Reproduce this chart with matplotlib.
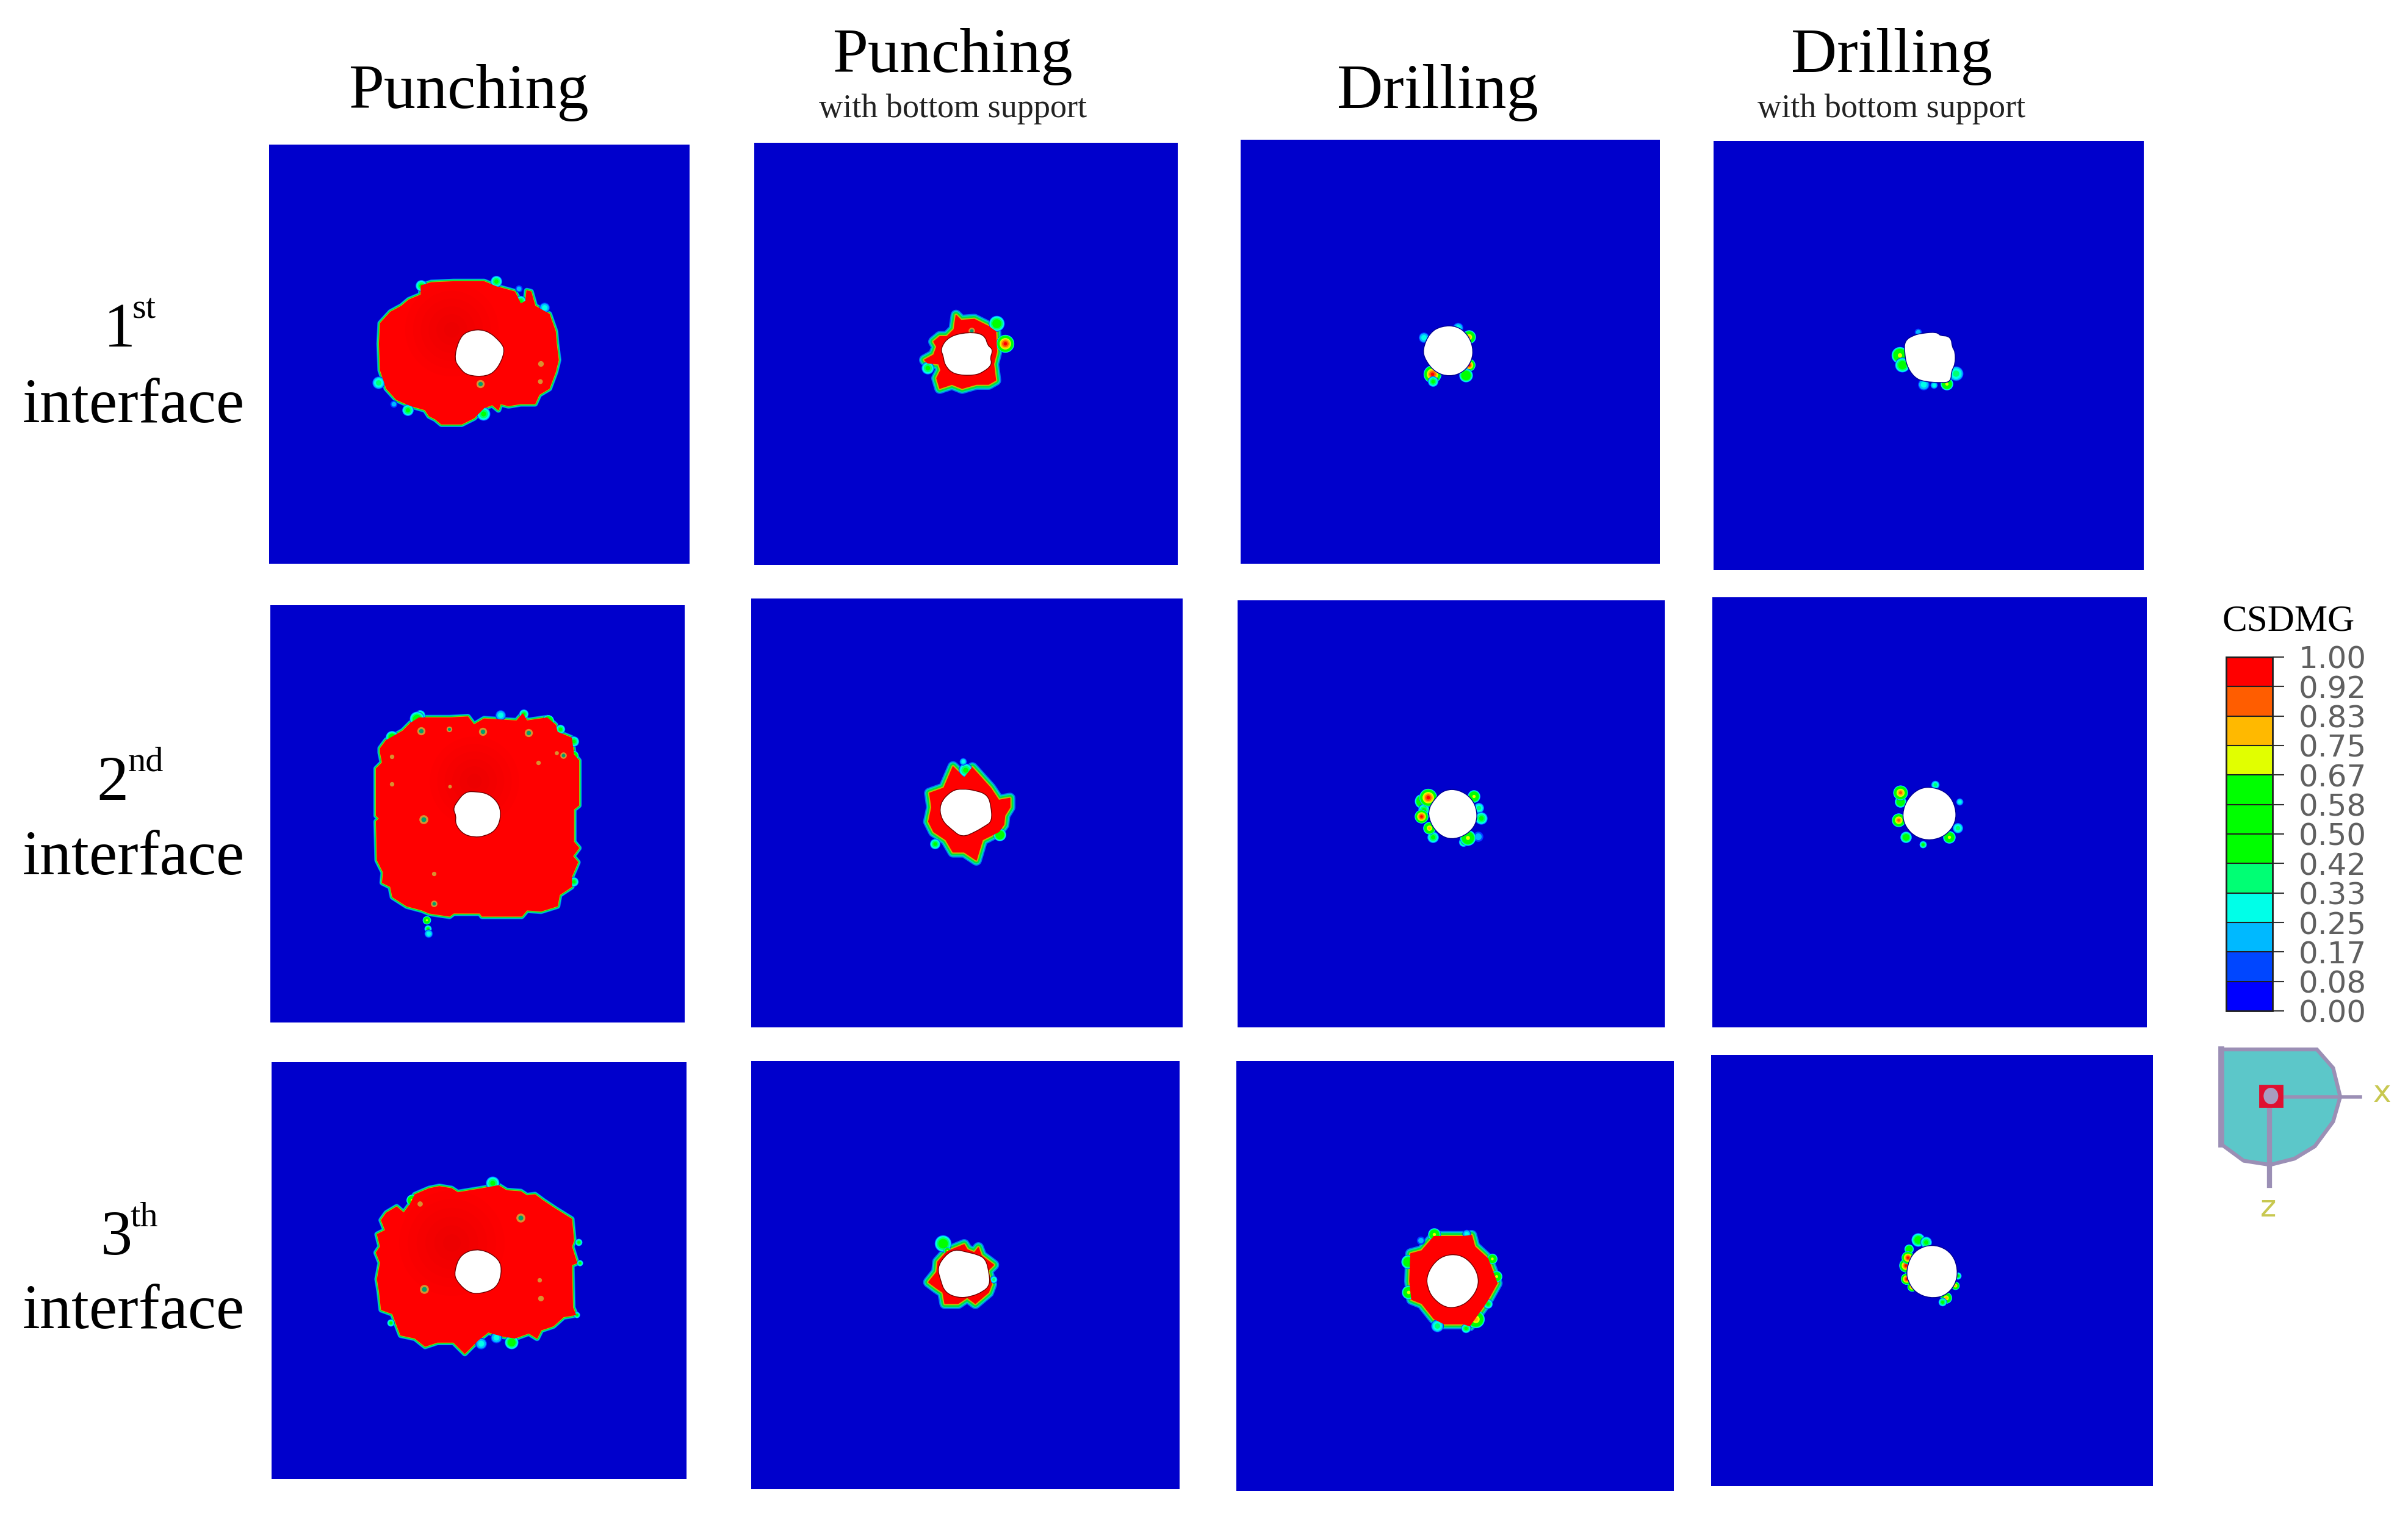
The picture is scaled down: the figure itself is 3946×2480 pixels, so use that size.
import matplotlib
matplotlib.use("Agg")
import matplotlib.pyplot as plt
from matplotlib.cm import ScalarMappable
from matplotlib.colors import BoundaryNorm, ListedColormap
from matplotlib.patches import Ellipse, PathPatch, Polygon, Rectangle
from matplotlib.path import Path

W, H = 3946, 2480
DPI = 100
PT = 72 / DPI  # one image pixel in points

BLUE = "#0000CC"
LEVELS = [0.00, 0.08, 0.17, 0.25, 0.33, 0.42, 0.50, 0.58, 0.67, 0.75, 0.83, 0.92, 1.00]
LEVEL_COLORS = ["#0000FF", "#0046FF", "#00B9FF", "#00FFE8", "#00FF74", "#00FF00",
                "#00FF00", "#00FF00", "#E1FF00", "#FFB900", "#FF5D00", "#FF0000"]

COLUMN_TITLES = ["Punching", "Punching", "Drilling", "Drilling"]
COLUMN_SUB = ["", "with bottom support", "", "with bottom support"]
ROW_NUMBERS = ["1", "2", "3"]
ROW_SUFFIX = ["st", "nd", "th"]

# panel extents in image pixels: left, right, top, bottom
EXTENTS = [
    [(441, 1130, 237, 924), (1236, 1930, 234, 926), (2033, 2720, 229, 924), (2808, 3513, 231, 934)],
    [(443, 1122, 992, 1676), (1231, 1938, 981, 1684), (2028, 2728, 984, 1684), (2806, 3518, 979, 1684)],
    [(445, 1125, 1741, 2424), (1231, 1933, 1739, 2441), (2026, 2743, 1739, 2444), (2804, 3528, 1729, 2436)],
]

ORIGIN_11 = (590, 430)
DAMAGE_11 = [(100, 300), (150, 245), (205, 215), (240, 185), (300, 160), (300, 115), (350, 100), (460, 95),
             (550, 95), (610, 95), (670, 120), (760, 145), (790, 205), (815, 190), (820, 140), (840, 145),
             (860, 215), (930, 255), (960, 340), (965, 400), (975, 480), (960, 540), (930, 620), (880, 650),
             (860, 695), (790, 695), (730, 705), (690, 695), (680, 725), (650, 700), (610, 715), (560, 765),
             (500, 795), (400, 795), (370, 770), (340, 755), (320, 725), (250, 705), (180, 675), (130, 620),
             (100, 530), (95, 400)]
HOLE_11 = [(470, 475), (490, 390), (525, 345), (615, 335), (690, 400), (705, 440), (670, 520), (620, 555),
           (530, 550), (495, 515)]
SPOTS_11 = [(90, 590, 24, .42), (235, 725, 22, .5), (165, 695, 14, .25), (300, 115, 22, .5), (670, 92, 22, .5),
            (905, 222, 20, .3), (790, 190, 20, .5), (780, 128, 14, .2), (605, 745, 26, .5)]
PITS_11 = [(888, 497, 14, .0), (592, 598, 20, .45), (885, 585, 12, .0)]
SHADE_11 = (450, 330, 230)

ORIGIN_12 = (1420, 440)
DAMAGE_12 = [(285, 450), (330, 425), (345, 385), (330, 360), (360, 335), (395, 335), (430, 300), (440, 230),
             (465, 255), (530, 250), (600, 285), (635, 310), (640, 410), (625, 470), (635, 550), (600, 570),
             (540, 570), (470, 590), (420, 570), (360, 590), (345, 540), (365, 500), (355, 470), (300, 465)]
HOLE_12 = [(370, 395), (410, 340), (500, 320), (575, 330), (590, 385), (615, 400), (600, 440), (610, 470),
           (575, 500), (530, 520), (430, 515), (390, 470), (385, 430)]
SPOTS_12 = [(640, 270, 30, .55), (680, 370, 34, 1.0), (300, 490, 24, .45)]
PITS_12 = [(515, 305, 16, .45)]

ORIGIN_13 = (2290, 510)
HOLE_13 = [(130, 190), (165, 110), (220, 80), (290, 80), (340, 120), (365, 180), (360, 240), (320, 295),
           (255, 315), (190, 295), (145, 240)]
SPOTS_13 = [(130, 128, 20, .3), (298, 80, 20, .33), (352, 125, 26, .8), (170, 308, 34, 1.0), (175, 345, 20, .45),
            (350, 265, 24, 1.0), (335, 315, 26, .6)]

ORIGIN_14 = (3070, 510)
HOLE_14 = [(160, 150), (200, 125), (245, 115), (310, 110), (325, 128), (375, 130), (380, 180), (395, 200),
           (395, 260), (375, 295), (375, 340), (340, 345), (250, 340), (205, 320), (170, 265), (160, 200)]
SPOTS_14 = [(218, 103, 14, .2), (130, 215, 32, .75), (140, 265, 28, .58), (245, 360, 22, .3), (297, 362, 14, .3),
            (360, 358, 24, .75), (405, 305, 28, .42)]

ORIGIN_21 = (560, 1120)
DAMAGE_21 = [(170, 420), (200, 390), (190, 340), (190, 320), (220, 280), (300, 235), (340, 195), (380, 170),
             (420, 170), (530, 170), (620, 165), (650, 205), (700, 175), (860, 185), (890, 150), (910, 185),
             (1010, 170), (1050, 205), (1060, 240), (1130, 270), (1140, 350), (1165, 380), (1165, 600),
             (1140, 620), (1140, 780), (1165, 810), (1135, 850), (1160, 880), (1130, 950), (1130, 1000),
             (1070, 1040), (1060, 1095), (980, 1120), (910, 1115), (885, 1145), (690, 1145), (680, 1130),
             (550, 1130), (530, 1145), (430, 1130), (395, 1115), (320, 1095), (250, 1050), (240, 1000),
             (200, 980), (205, 930), (175, 870), (170, 680), (185, 665), (170, 650)]
HOLE_21 = [(555, 620), (570, 590), (610, 540), (660, 540), (720, 550), (770, 600), (775, 665), (750, 720),
           (700, 745), (650, 750), (600, 735), (565, 690), (570, 650)]
SPOTS_21 = [(418, 1165, 16, .7), (422, 1205, 14, .45), (425, 1230, 16, .3), (385, 155, 20, .45), (780, 155, 20, .3),
            (895, 150, 18, .45), (1015, 183, 22, .75), (1075, 225, 18, .5), (245, 265, 24, .55), (1140, 975, 18, .45),
            (1140, 355, 18, .75), (1140, 285, 20, .5), (370, 175, 28, .55)]
PITS_21 = [(390, 235, 20, .4), (527, 225, 14, .4), (692, 237, 20, .4), (917, 243, 20, .4), (1088, 353, 16, .4),
           (1055, 343, 10, .0), (965, 390, 11, .0), (247, 360, 11, .0), (245, 495, 11, .0), (532, 507, 9, .0),
           (402, 668, 22, .35), (453, 937, 11, .0), (453, 1082, 16, .5)]
SHADE_21 = (650, 480, 220)

ORIGIN_22 = (1490, 1220)
DAMAGE_22 = [(100, 240), (170, 215), (215, 110), (270, 165), (310, 115), (400, 215), (440, 275), (495, 265),
             (495, 310), (470, 350), (465, 395), (440, 430), (360, 470), (330, 570), (270, 530), (215, 530),
             (180, 470), (120, 430), (95, 380), (110, 310)]
HOLE_22 = [(155, 295), (210, 235), (260, 225), (330, 235), (380, 255), (395, 305), (400, 375), (370, 395),
           (320, 425), (260, 450), (215, 415), (165, 370)]
SPOTS_22 = [(275, 125, 26, .5), (445, 445, 24, .65), (125, 490, 20, .45), (265, 85, 14, .3)]

ORIGIN_23 = (2290, 1250)
HOLE_23 = [(155, 240), (190, 180), (235, 140), (300, 140), (360, 180), (385, 240), (380, 300), (340, 345),
           (280, 370), (225, 360), (175, 310)]
SPOTS_23 = [(120, 190, 28, .7), (130, 230, 22, .5), (175, 365, 22, .5), (150, 170, 34, 1.0), (118, 265, 26, 1.0),
            (155, 320, 24, .8), (375, 165, 24, .75), (400, 222, 20, .4), (412, 272, 24, .45), (395, 362, 20, .25),
            (325, 390, 18, .5), (345, 368, 30, .75)]

ORIGIN_24 = (3071, 1244)
HOLE_24 = [(145, 270), (170, 200), (225, 150), (290, 145), (360, 175), (395, 240), (395, 310), (350, 370),
           (280, 395), (210, 380), (160, 330)]
SPOTS_24 = [(130, 210, 22, .6), (130, 165, 28, .9), (120, 300, 26, .85), (155, 385, 22, .55), (300, 125, 16, .4),
            (370, 385, 24, .7), (410, 340, 20, .4), (240, 420, 14, .5), (420, 210, 14, .3)]

ORIGIN_31 = (590, 1910)
DAMAGE_31 = [(85, 340), (125, 320), (105, 270), (130, 235), (180, 205), (215, 235), (245, 195), (270, 145),
             (340, 115), (390, 105), (450, 115), (480, 135), (600, 115), (680, 100), (720, 125), (790, 130),
             (820, 150), (860, 145), (900, 175), (960, 215), (1040, 265), (1050, 370), (1040, 400), (1065, 480),
             (1040, 490), (1045, 700), (1060, 735), (1000, 745), (950, 790), (890, 810), (870, 850), (830, 825),
             (760, 850), (700, 840), (630, 820), (580, 860), (515, 925), (460, 870), (380, 870), (320, 890),
             (270, 850), (200, 835), (160, 730), (105, 710), (95, 620), (85, 560), (100, 480), (80, 430), (100, 400)]
HOLE_31 = [(470, 525), (500, 440), (590, 415), (680, 465), (690, 530), (665, 600), (590, 625), (535, 620),
           (480, 565)]
SPOTS_31 = [(255, 170, 22, .75), (650, 88, 26, .5), (595, 875, 22, .33), (668, 845, 22, .33), (745, 870, 26, .58),
            (150, 775, 14, .5), (1075, 378, 14, .5), (1080, 480, 12, .45), (1065, 735, 12, .45)]
PITS_31 = [(295, 188, 13, .0), (790, 257, 22, .4), (315, 610, 22, .35), (882, 563, 11, .0), (888, 655, 14, .0)]
SHADE_31 = (450, 380, 260)

ORIGIN_32 = (1490, 1990)
DAMAGE_32 = [(95, 335), (135, 285), (140, 235), (185, 185), (270, 150), (285, 175), (320, 190), (340, 165),
             (355, 205), (415, 250), (385, 280), (405, 345), (390, 385), (325, 440), (285, 410), (240, 440),
             (175, 440), (165, 385), (135, 365)]
HOLE_32 = [(145, 265), (180, 210), (225, 180), (285, 195), (330, 205), (370, 225), (385, 290), (390, 345),
           (360, 375), (300, 400), (240, 405), (180, 380), (160, 320)]
SPOTS_32 = [(165, 145, 32, .55), (185, 180, 14, .75), (415, 320, 14, .4)]

ORIGIN_33 = (2270, 1990)
DAMAGE_33 = [(125, 195), (180, 180), (240, 110), (380, 110), (425, 105), (440, 160), (505, 220), (550, 340),
             (500, 430), (415, 550), (385, 540), (290, 540), (240, 515), (180, 440), (130, 420), (120, 330)]
HOLE_33 = [(210, 310), (240, 250), (290, 210), (360, 205), (415, 240), (450, 300), (450, 360), (410, 420),
           (360, 450), (300, 455), (240, 410), (215, 360)]
SPOTS_33 = [(240, 100, 24, .75), (175, 130, 16, .25), (110, 235, 26, .6), (115, 385, 26, .75), (255, 548, 24, .4),
            (395, 562, 18, .45), (445, 515, 34, .8), (505, 440, 18, .5), (525, 220, 20, .7), (545, 305, 22, .75),
            (400, 95, 16, .3)]

ORIGIN_34 = (3076, 1994)
HOLE_34 = [(150, 270), (175, 190), (235, 150), (305, 150), (365, 190), (390, 260), (380, 330), (330, 385),
           (260, 395), (195, 370), (160, 320)]
SPOTS_34 = [(200, 115, 26, .55), (240, 125, 22, .5), (155, 160, 18, .6), (140, 240, 26, 1.0), (150, 200, 24, 1.0),
            (145, 305, 22, .95), (170, 345, 18, .9), (340, 400, 22, .8), (320, 420, 16, .5), (395, 290, 14, .45),
            (385, 340, 16, .8)]

# row, col, origin, damage outline, hole, spots, pits, shade, edge band width in px
PANELS = [
    (0, 0, ORIGIN_11, DAMAGE_11, HOLE_11, SPOTS_11, PITS_11, SHADE_11, 5),
    (0, 1, ORIGIN_12, DAMAGE_12, HOLE_12, SPOTS_12, PITS_12, None, 9),
    (0, 2, ORIGIN_13, None, HOLE_13, SPOTS_13, [], None, 9),
    (0, 3, ORIGIN_14, None, HOLE_14, SPOTS_14, [], None, 9),
    (1, 0, ORIGIN_21, DAMAGE_21, HOLE_21, SPOTS_21, PITS_21, SHADE_21, 5),
    (1, 1, ORIGIN_22, DAMAGE_22, HOLE_22, SPOTS_22, [], None, 9),
    (1, 2, ORIGIN_23, None, HOLE_23, SPOTS_23, [], None, 9),
    (1, 3, ORIGIN_24, None, HOLE_24, SPOTS_24, [], None, 9),
    (2, 0, ORIGIN_31, DAMAGE_31, HOLE_31, SPOTS_31, PITS_31, SHADE_31, 5),
    (2, 1, ORIGIN_32, DAMAGE_32, HOLE_32, SPOTS_32, [], None, 9),
    (2, 2, ORIGIN_33, DAMAGE_33, HOLE_33, SPOTS_33, [], None, 9),
    (2, 3, ORIGIN_34, None, HOLE_34, SPOTS_34, [], None, 9),
]


def level_color(value):
    for i in range(len(LEVEL_COLORS)):
        if value <= LEVELS[i + 1]:
            return LEVEL_COLORS[i]
    return LEVEL_COLORS[-1]


def to_image(points, origin):
    # crop coordinates were read at 3x
    xs = [origin[0] + p[0] / 3 for p in points]
    ys = [origin[1] + p[1] / 3 for p in points]
    return xs, ys


def rounded_path(xs, ys):
    # closed quadratic curve through the edge midpoints, softens the traced corners
    n = len(xs)
    mids = [((xs[i] + xs[(i + 1) % n]) / 2, (ys[i] + ys[(i + 1) % n]) / 2) for i in range(n)]
    verts = [mids[-1]]
    codes = [Path.MOVETO]
    for i in range(n):
        verts += [(xs[i], ys[i]), mids[i]]
        codes += [Path.CURVE3, Path.CURVE3]
    return Path(verts, codes)


def draw_spot(ax, x, y, radius, peak):
    # concentric contour bands, outermost first
    steps = [v for v in LEVELS[1:] if v < peak] + [peak]
    for i, v in enumerate(steps):
        r = 1.3 * radius * (1 - (i / len(steps)) ** 2.5)
        ax.scatter(x, y, s=(2 * r * PT) ** 2, color=level_color(v), linewidths=0, zorder=3)


def draw_panel(ax, origin, damage, hole, spots, pits, shade, band):
    if damage:
        xs, ys = to_image(damage, origin)
        outline = list(zip(xs, ys))
        for ext, color in [(band, "#0078F0"), (band * .8, "#00D8C0"), (band * .6, "#00E040"), (band * .3, "#C0C000")]:
            ax.add_patch(Polygon(outline, facecolor="none", edgecolor=color, linewidth=2 * ext * PT,
                                 joinstyle="round", zorder=2))
    for x, y, r, peak in spots:
        px, py = to_image([(x, y)], origin)
        draw_spot(ax, px[0], py[0], r / 3, peak)
    if damage:
        red = Polygon(outline, facecolor="#FF0000", edgecolor="#FF0000", linewidth=1, joinstyle="round", zorder=4)
        ax.add_patch(red)
    if shade:
        # darker red above the hole
        sx, sy = to_image([shade[:2]], origin)
        for k in range(1, 7):
            dark = ax.scatter(sx, sy, s=(2 * shade[2] / 3 * k / 6 * PT) ** 2, color="black", alpha=0.012,
                              linewidths=0, zorder=4.5)
            dark.set_clip_path(red)
    for x, y, r, core in pits:
        px, py = to_image([(x, y)], origin)
        ax.scatter(px, py, s=(2 * r / 3 * PT) ** 2, color="#D89030", linewidths=0, zorder=5)
        if core:
            ax.scatter(px, py, s=(r / 3 * 1.1 * PT) ** 2, color="#00A070", linewidths=0, zorder=5)
    xs, ys = to_image(hole, origin)
    edge = "#700000" if damage else "#000090"
    shape = rounded_path(xs, ys)
    ax.add_patch(PathPatch(shape, facecolor="white", edgecolor=edge, linewidth=4.5, zorder=6))
    ax.add_patch(PathPatch(shape, facecolor="white", edgecolor="white", linewidth=2.5, zorder=7))


def add_px_axes(fig, left, right, top, bottom):
    ax = fig.add_axes([left / W, 1 - bottom / H, (right - left) / W, (bottom - top) / H])
    ax.set_xlim(left, right)
    ax.set_ylim(bottom, top)
    return ax


plt.rcParams["font.family"] = ["Liberation Serif", "DejaVu Serif"]
fig = plt.figure(figsize=(W / DPI, H / DPI), dpi=DPI, facecolor="white")

for row, col, origin, damage, hole, spots, pits, shade, band in PANELS:
    left, right, top, bottom = EXTENTS[row][col]
    ax = add_px_axes(fig, left, right, top, bottom)
    ax.set_facecolor(BLUE)
    ax.set_xticks([])
    ax.set_yticks([])
    for s in ax.spines.values():
        s.set_visible(False)
    draw_panel(ax, origin, damage, hole, spots, pits, shade, band)

# full figure overlay for the text and the little triad
over = add_px_axes(fig, 0, W, 0, H)
over.axis("off")
over.patch.set_alpha(0)

title_x = [768, 1561, 2356, 3100]
title_y = [152, 93, 152, 93]
sub_x = [0, 1561, 0, 3100]
for i, title in enumerate(COLUMN_TITLES):
    over.text(title_x[i], title_y[i], title, fontsize=75, ha="center", va="center", color="black")
    if COLUMN_SUB[i]:
        over.text(sub_x[i], 179, COLUMN_SUB[i], fontsize=39, ha="center", va="center", color="#222222")

number_x = [170, 158, 165]
suffix_x = [217, 210, 213]
number_y = [543, 1286, 2031]
suffix_y = [508, 1250, 1995]
interface_y = [667, 1408, 2152]
for i in range(3):
    over.text(number_x[i], number_y[i], ROW_NUMBERS[i], fontsize=75, ha="left", va="center")
    over.text(suffix_x[i], suffix_y[i], ROW_SUFFIX[i], fontsize=42, ha="left", va="center")
    over.text(219, interface_y[i], "interface", fontsize=75, ha="center", va="center")

# contour legend
cax = fig.add_axes([3648 / W, 1 - 1657 / H, 76 / W, (1657 - 1077) / H])
sm = ScalarMappable(norm=BoundaryNorm(LEVELS, len(LEVEL_COLORS)), cmap=ListedColormap(LEVEL_COLORS))
cb = fig.colorbar(sm, cax=cax, ticks=LEVELS, format="%.2f", drawedges=True)
cb.dividers.set_color("#202020")
cb.dividers.set_linewidth(1.5)
cb.outline.set_edgecolor("#202020")
cb.outline.set_linewidth(2)
cb.ax.minorticks_off()
cb.ax.tick_params(length=14, width=1.5, color="#333333", pad=17, labelsize=36, labelcolor="#606060")
for label in cb.ax.get_yticklabels():
    label.set_family("DejaVu Sans")
over.text(3750, 1019, "CSDMG", fontsize=44, ha="center", va="center", color="black")

TRIAD_X = [240, 710, 790, 825, 790, 700, 600, 480, 350, 240]
TRIAD_Y = [1125, 1125, 1170, 1240, 1300, 1360, 1390, 1405, 1395, 1355]
tx = [3560 + v / 3 for v in TRIAD_X]
ty = [960 + v / 1.48 for v in TRIAD_Y]
over.fill(tx, ty, facecolor="#5CC7C9", edgecolor="#9B8FB5", linewidth=4.5, zorder=5)
over.plot([3560 + 540 / 3, 3560 + 925 / 3], [960 + 1240 / 1.48] * 2, color="#9B8FB5", lw=4, zorder=6)
over.plot([3560 + 478 / 3] * 2, [960 + 1265 / 1.48, 960 + 1455 / 1.48], color="#9B8FB5", lw=6, zorder=6)
over.plot([3560 + 240 / 3] * 2, [960 + 1125 / 1.48, 960 + 1355 / 1.48], color="#9B8FB5", lw=7, zorder=6)
over.add_patch(Rectangle((3560 + 428 / 3, 960 + 1212 / 1.48), 112 / 3, 52 / 1.48,
                         facecolor="#E01030", edgecolor="#E01030", linewidth=2, zorder=7))
over.add_patch(Ellipse((3560 + 484 / 3, 960 + 1238 / 1.48), 72 / 3, 40 / 1.48, facecolor="#A89CC0",
                       edgecolor="none", zorder=8))
over.text(3560 + 1030 / 3, 960 + 1232 / 1.48, "x", fontsize=36, color="#C8C850", ha="center", va="center",
          family="DejaVu Sans")
over.text(3560 + 470 / 3, 960 + 1510 / 1.48, "z", fontsize=36, color="#C8C850", ha="center", va="center",
          family="DejaVu Sans")

fig.savefig("out.png", dpi=DPI, facecolor="white")
